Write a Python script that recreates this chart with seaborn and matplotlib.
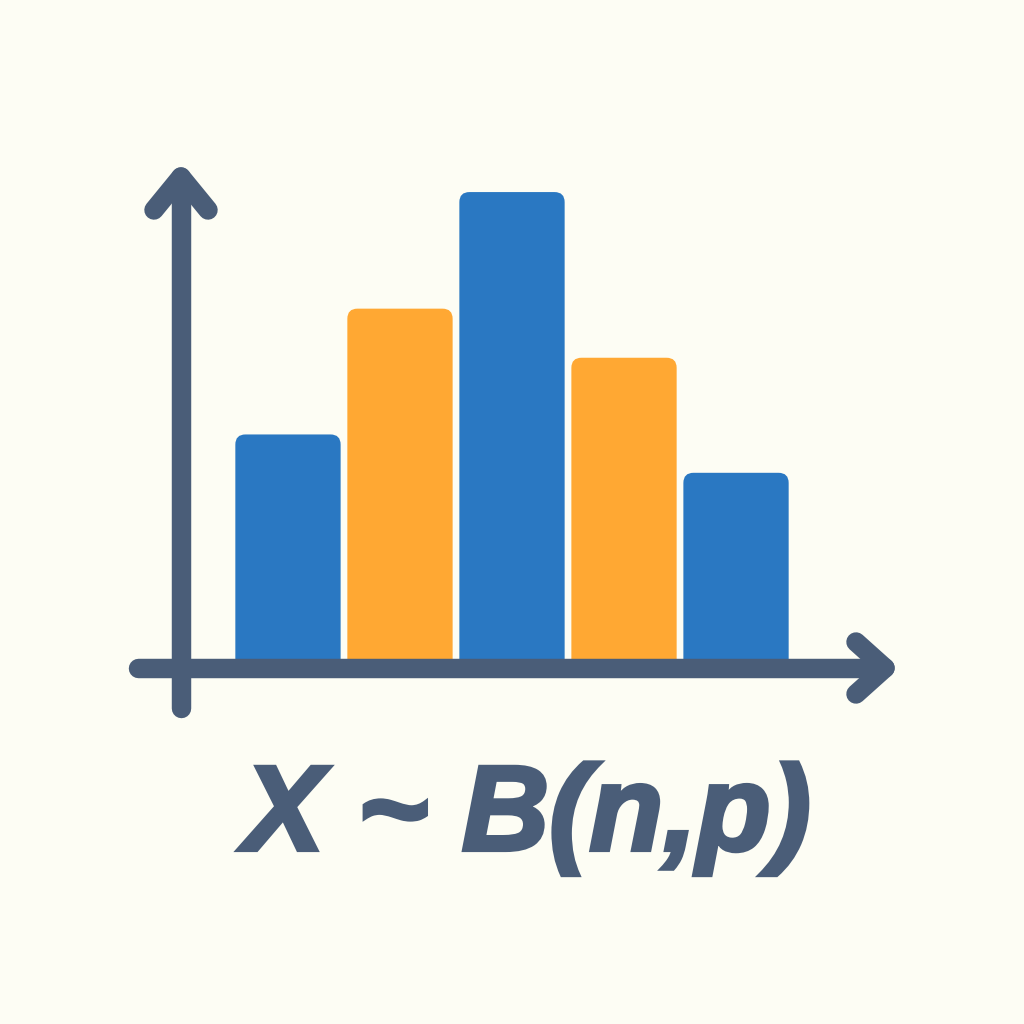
import numpy as np
import pandas as pd
import matplotlib
matplotlib.use("Agg")
import matplotlib.pyplot as plt
import matplotlib.patheffects as pe
import seaborn as sns
from matplotlib.patches import FancyBboxPatch

# bar data (binomial-like probabilities)
outcomes = ["0", "1", "2", "3", "4"]
probs = [0.147, 0.229, 0.305, 0.197, 0.122]
bar_colors = ["#2a78c2", "#ffa833", "#2a78c2", "#ffa833", "#2a78c2"]
label = "X ~ B(n,p)"

bg = "#fdfdf4"
ink = "#4a5d78"

sns.set_theme(style="white")
plt.rcParams["font.family"] = ["Liberation Sans", "DejaVu Sans"]

fig = plt.figure(figsize=(10.24, 10.24), dpi=100, facecolor=bg)
ax = fig.add_axes([0, 0, 1, 1])
ax.set_facecolor(bg)

df = pd.DataFrame({"k": outcomes, "p": probs})
sns.barplot(data=df, x="k", y="p", hue="k", palette=bar_colors,
            width=0.94, legend=False, ax=ax, saturation=1)

ax.set_xlim(-2.571, 6.571)
ax.set_ylim(-0.2373, 0.4302)
ax.axis("off")

# rounded tops: swap each rectangle for a rounded box
xs_px = 112.0
ys_px = 1534.0
for patch in list(ax.patches):
    x0, w, h = patch.get_x(), patch.get_width(), patch.get_height()
    fc = patch.get_facecolor()
    patch.remove()
    off = 0.008
    ax.add_patch(FancyBboxPatch((x0, -off), w, h + off,
                                boxstyle="round,pad=0,rounding_size=0.09",
                                mutation_aspect=xs_px / ys_px,
                                fc=fc, ec="none", zorder=2))

# axes with arrows (figure fraction coords)
lw = 14
kw = dict(color=ink, lw=lw, solid_capstyle="round", transform=fig.transFigure, zorder=5)


def px(x, y):
    return x / 1024, 1 - y / 1024


# vertical axis
for a, b in [((181, 708), (181, 180)), ((181, 177), (154, 210)), ((181, 177), (208, 210))]:
    (xa, ya), (xb, yb) = px(*a), px(*b)
    ax.plot([xa, xb], [ya, yb], **kw)

# horizontal axis
for a, b in [((138, 668), (882, 668)), ((885, 668), (856, 642)), ((885, 668), (856, 694))]:
    (xa, ya), (xb, yb) = px(*a), px(*b)
    ax.plot([xa, xb], [ya, yb], **kw)

fig.text(0.515, 1 - 850 / 1024, label, ha="center", va="baseline",
         fontsize=87, fontweight="bold", fontstyle="italic", color=ink,
         path_effects=[pe.withStroke(linewidth=3, foreground=ink, joinstyle="miter")])

fig.savefig("out.png", dpi=100, facecolor=bg)
